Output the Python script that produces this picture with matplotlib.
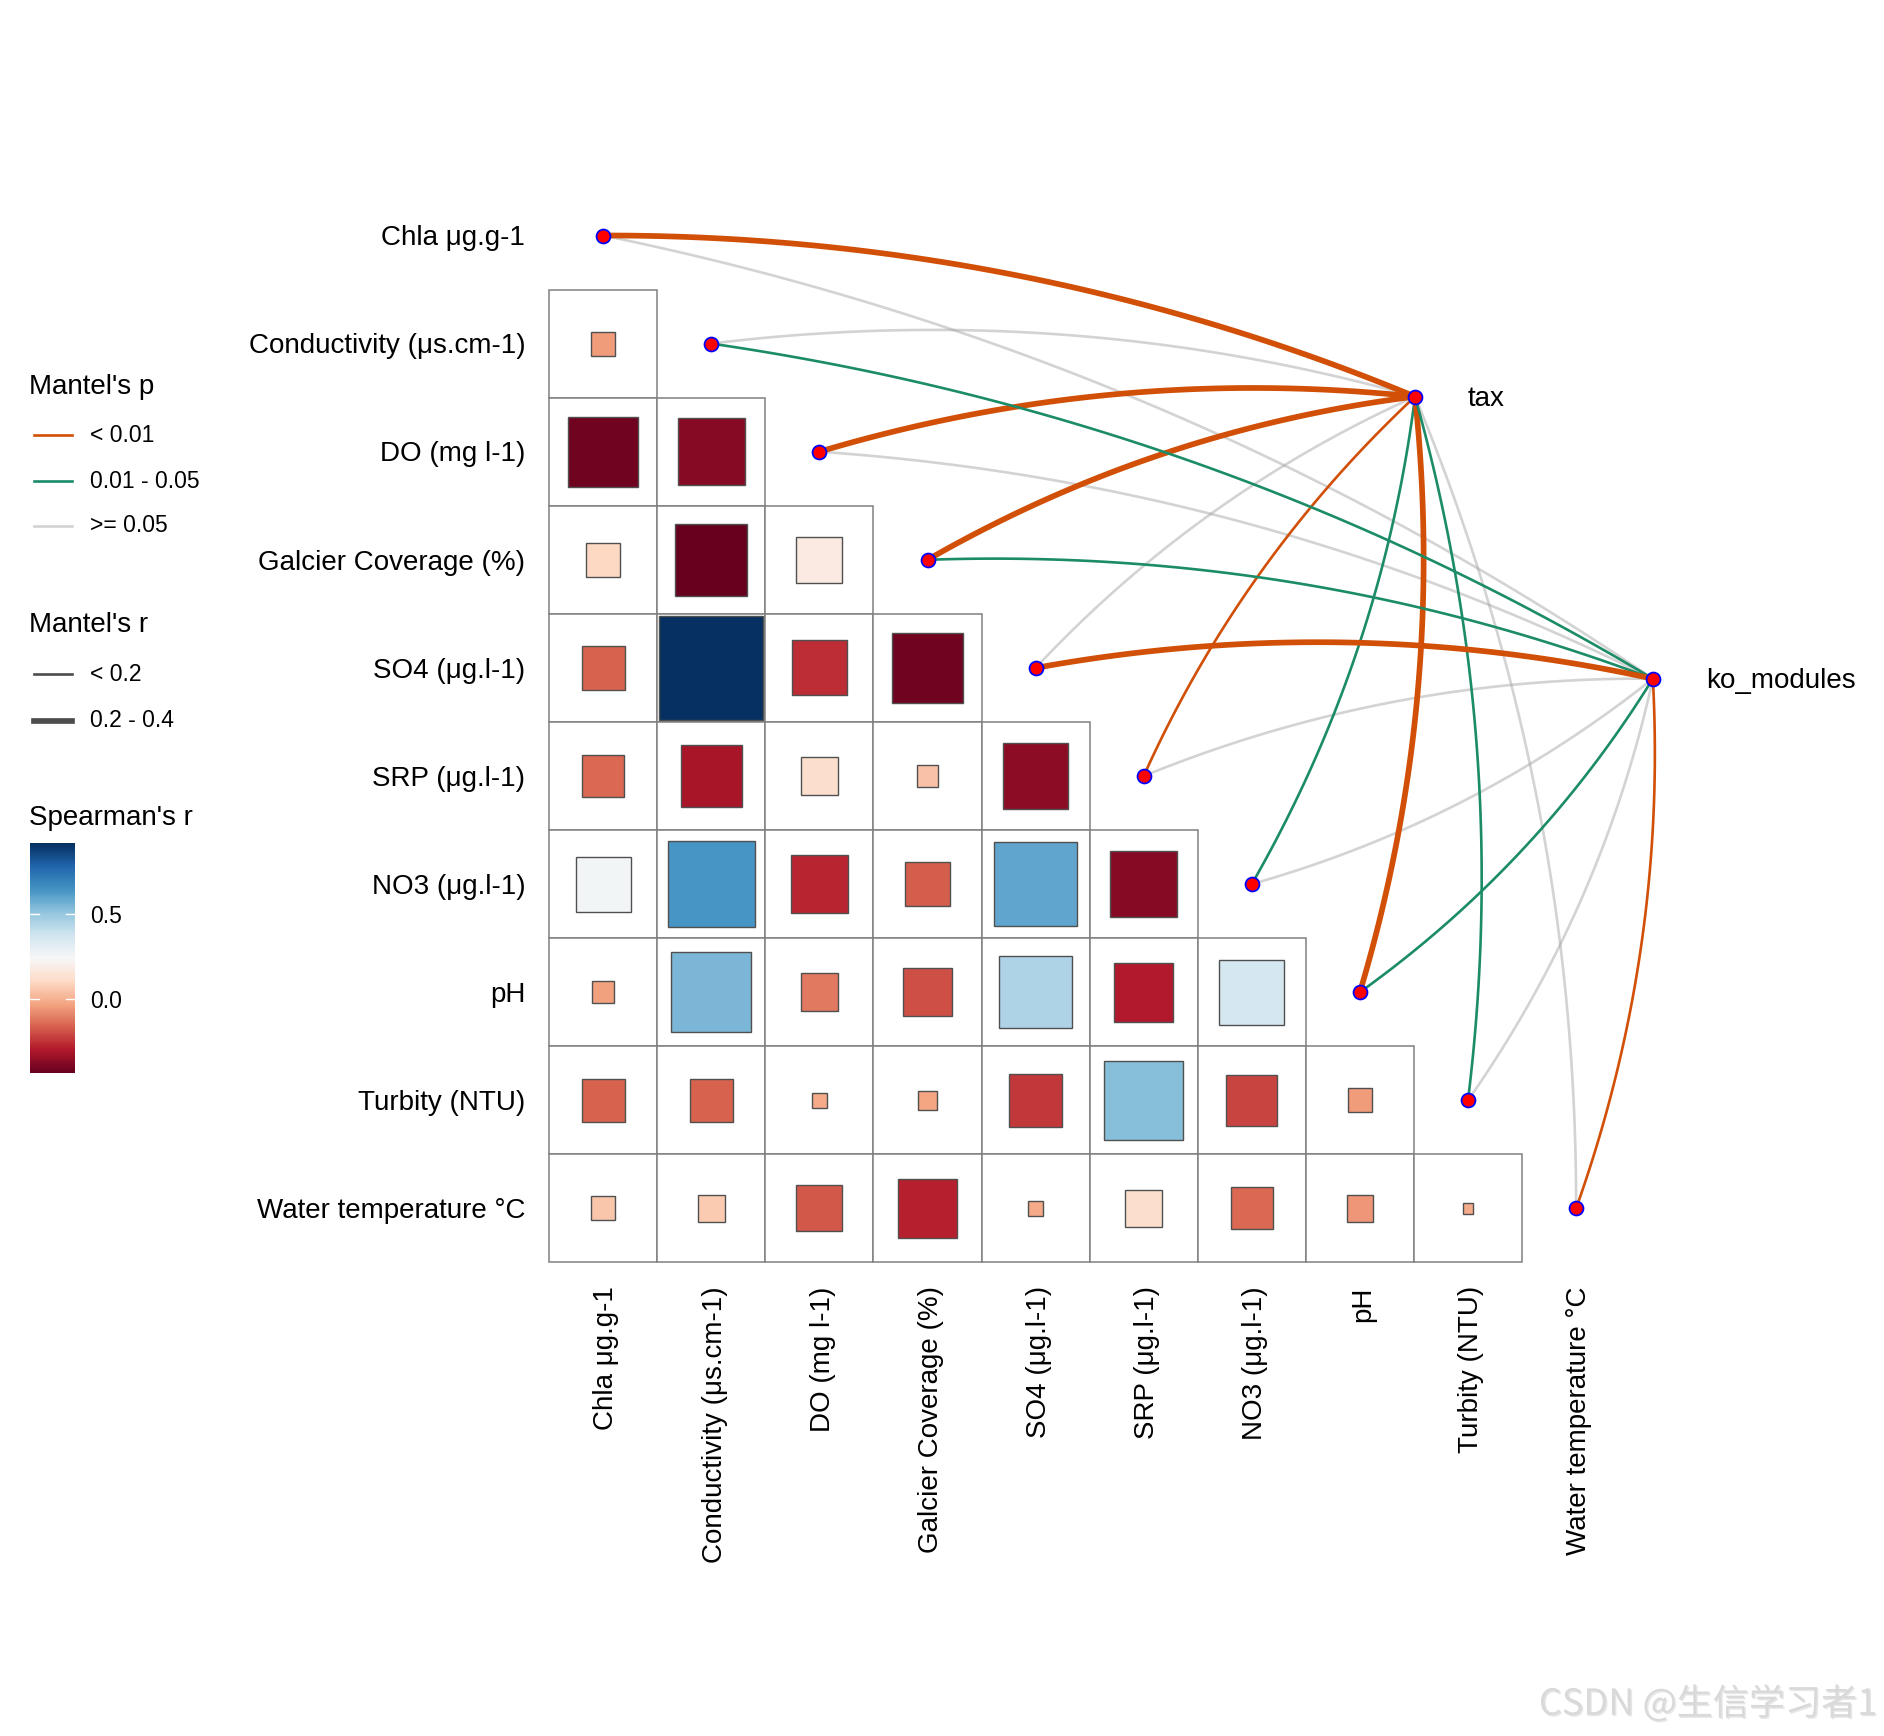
import numpy as np
import matplotlib
matplotlib.use("Agg")
import matplotlib.pyplot as plt
from matplotlib.patches import Rectangle
from matplotlib.colors import Normalize
from matplotlib.lines import Line2D
import matplotlib.colorbar as mcolorbar
import matplotlib.transforms as mtransforms
import matplotlib.patheffects as pe

plt.rcParams['font.family'] = ['Liberation Sans', 'DejaVu Sans']

env = ["Chla μg.g-1", "Conductivity (μs.cm-1)", "DO (mg l-1)", "Galcier Coverage (%)",
       "SO4 (μg.l-1)", "SRP (μg.l-1)", "NO3 (μg.l-1)", "pH", "Turbity (NTU)",
       "Water temperature °C"]

# Spearman r, lower triangle: row i holds columns 0..i-1
spearman = [
    [],
    [-0.05],
    [-0.42, -0.38],
    [0.10, -0.44, 0.18],
    [-0.16, 0.92, -0.26, -0.42],
    [-0.15, -0.32, 0.12, 0.04, -0.37],
    [0.26, 0.64, -0.28, -0.17, 0.60, -0.38],
    [-0.04, 0.55, -0.12, -0.20, 0.45, -0.30, 0.36],
    [-0.16, -0.16, -0.02, -0.03, -0.24, 0.53, -0.22, -0.05],
    [0.05, 0.06, -0.18, -0.29, -0.02, 0.12, -0.15, -0.06, -0.01],
]

# Mantel test classes (per env variable, same order as env)
tax_p = ["< 0.01", ">= 0.05", "< 0.01", "< 0.01", ">= 0.05", "< 0.01",
         "0.01 - 0.05", "< 0.01", "0.01 - 0.05", ">= 0.05"]
tax_r = ["0.2 - 0.4", "< 0.2", "0.2 - 0.4", "0.2 - 0.4", "< 0.2", "< 0.2",
         "< 0.2", "0.2 - 0.4", "< 0.2", "< 0.2"]
ko_p = [">= 0.05", "0.01 - 0.05", ">= 0.05", "0.01 - 0.05", "< 0.01", ">= 0.05",
        ">= 0.05", "0.01 - 0.05", ">= 0.05", "< 0.01"]
ko_r = ["< 0.2", "< 0.2", "< 0.2", "< 0.2", "0.2 - 0.4", "< 0.2",
        "< 0.2", "< 0.2", "< 0.2", "< 0.2"]

p_levels = ["< 0.01", "0.01 - 0.05", ">= 0.05"]
p_cols = {"< 0.01": "#D14F06", "0.01 - 0.05": "#1B8B68", ">= 0.05": "#A2A2A2"}
p_alpha = {"< 0.01": 1.0, "0.01 - 0.05": 1.0, ">= 0.05": 0.47}
r_levels = ["< 0.2", "0.2 - 0.4"]
r_lw = {"< 0.2": 1.9, "0.2 - 0.4": 4.1}

# side of bending for each env variable (+1 bows left of node->hub direction)
bend = [1, 1, 1, 1, 1, 1, -1, -1, -1, -1]

W, H = 1884, 1736
cell = 108.1
x0, y0 = 603.2, 235.5

fig = plt.figure(figsize=(W / 100, H / 100), dpi=100)
ax = fig.add_axes([0, 0, 1, 1])
ax.set_xlim(-x0 / cell, (W - x0) / cell)
ax.set_ylim((H - y0) / cell, -y0 / cell)
ax.axis("off")

allr = [v for row in spearman for v in row]
norm = Normalize(vmin=min(allr), vmax=max(allr))
cmap = plt.get_cmap("RdBu")

n = len(env)
for i in range(n):
    for j, r in enumerate(spearman[i]):
        ax.add_patch(Rectangle((j - 0.5, i - 0.5), 1, 1, facecolor="white",
                               edgecolor="#808080", lw=1.1, zorder=1))
        s = np.sqrt(abs(r))
        ax.add_patch(Rectangle((j - s / 2, i - s / 2), s, s, facecolor=cmap(norm(r)),
                               edgecolor="#505050", lw=1.0, zorder=2))

gap = 0.22
for i, lab in enumerate(env):
    ax.text(-0.5 - gap, i + 0.025, lab, ha="right", va="center", fontsize=20)
    ax.text(i + 0.03, n - 0.5 + gap, lab, ha="center", va="top", rotation=90, fontsize=20)

hubs = {"tax": (7.51, 1.49), "ko_modules": (9.71, 4.10)}


def curve(p0, p1, sign, k=0.1, m=80):
    p0 = np.asarray(p0, float)
    p1 = np.asarray(p1, float)
    d = p1 - p0
    ctrl = (p0 + p1) / 2 + sign * k * np.array([d[1], -d[0]])
    t = np.linspace(0, 1, m)[:, None]
    pts = (1 - t) ** 2 * p0 + 2 * (1 - t) * t * ctrl + t ** 2 * p1
    return pts[:, 0], pts[:, 1]


edges = []
for name, pl, rl in [("tax", tax_p, tax_r), ("ko_modules", ko_p, ko_r)]:
    for i in range(n):
        edges.append((name, i, pl[i], rl[i]))

# gray first, coloured on top
for name, i, pv, rv in sorted(edges, key=lambda e: e[2] != ">= 0.05"):
    xs, ys = curve((i, i), hubs[name], bend[i])
    ax.plot(xs, ys, color=p_cols[pv], alpha=p_alpha[pv], lw=r_lw[rv],
            solid_capstyle="butt", zorder=3 if pv == ">= 0.05" else 4)

for i in range(n):
    ax.plot(i, i, "o", ms=10, mfc="red", mec="blue", mew=1.3, zorder=6)
for name, (hx, hy) in hubs.items():
    ax.plot(hx, hy, "o", ms=10, mfc="red", mec="blue", mew=1.3, zorder=6)
    ax.text(hx + 0.49, hy + 0.025, name, ha="left", va="center", fontsize=20)

# legends
fx = lambda px: px / W
fy = lambda py: 1 - py / H

fig.text(fx(29), fy(387), "Mantel's p", fontsize=20, va="center")
for k, lev in enumerate(p_levels):
    yy = fy([435, 481, 526][k])
    fig.add_artist(Line2D([fx(34), fx(72)], [yy, yy], color=p_cols[lev],
                          alpha=p_alpha[lev], lw=1.9, transform=fig.transFigure))
    fig.text(fx(90), yy, lev, fontsize=16.5, va="center")

fig.text(fx(29), fy(625), "Mantel's r", fontsize=20, va="center")
for k, lev in enumerate(r_levels):
    yy = fy([674, 721][k])
    fig.add_artist(Line2D([fx(34), fx(72)], [yy, yy], color="#4D4D4D",
                          lw=r_lw[lev], transform=fig.transFigure))
    fig.text(fx(90), yy, lev, fontsize=16.5, va="center")

fig.text(fx(29), fy(818), "Spearman's r", fontsize=20, va="center")
cax = fig.add_axes([fx(30), fy(1073), 44.5 / W, 229.5 / H])
cb = mcolorbar.ColorbarBase(cax, cmap=cmap, norm=norm, orientation="vertical")
cb.outline.set_visible(False)
cb.set_ticks([0.0, 0.5])
cb.set_ticklabels(["0.0", "0.5"])
cax.tick_params(length=0, pad=11, labelsize=16.5)
tr = mtransforms.blended_transform_factory(cax.transAxes, cax.transData)
for t in [0.0, 0.5]:
    cax.plot([0, 0.2], [t, t], color="white", lw=1, transform=tr)
    cax.plot([0.8, 1], [t, t], color="white", lw=1, transform=tr)

fig.text(fx(1877), fy(1704), "CSDN @生信学习者1", ha="right", va="center",
         fontsize=26, color="#D9D9D9", fontweight="light",
         family=["Noto Sans CJK SC", "DejaVu Sans"],
         path_effects=[pe.withSimplePatchShadow(offset=(1, -1), shadow_rgbFace="#B0B0B0", alpha=0.3)])

fig.savefig("out.png", dpi=100, facecolor="white")
